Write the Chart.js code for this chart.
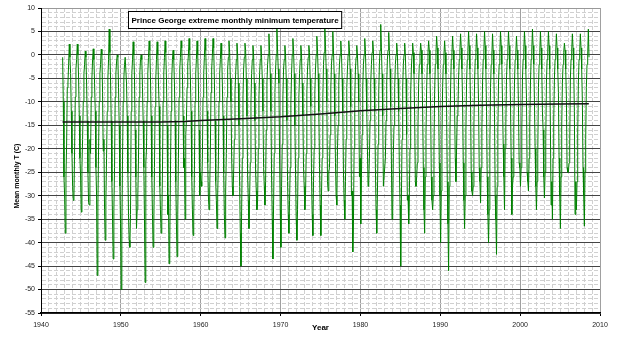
<!DOCTYPE html>
<html>
<head>
<meta charset="utf-8">
<script src="https://cdn.jsdelivr.net/npm/chart.js@4.4.0/dist/chart.umd.min.js"></script>
<style>
  html, body { margin: 0; padding: 0; background: #fff; }
</style>
</head>
<body>
<canvas id="chart_temp" width="619" height="337"></canvas>
<script>
// Data: extreme monthly minimum temperature, one row per year, Jan..Dec
years = [1942, 1943, 1944, 1945, 1946, 1947, 1948, 1949, 1950, 1951, 1952, 1953, 1954, 1955, 1956,
         1957, 1958, 1959, 1960, 1961, 1962, 1963, 1964, 1965, 1966, 1967, 1968, 1969, 1970, 1971,
         1972, 1973, 1974, 1975, 1976, 1977, 1978, 1979, 1980, 1981, 1982, 1983, 1984, 1985, 1986,
         1987, 1988, 1989, 1990, 1991, 1992, 1993, 1994, 1995, 1996, 1997, 1998, 1999, 2000, 2001,
         2002, 2003, 2004, 2005, 2006, 2007, 2008]
monthly_min = [
  [null, null, null, null, null, null, null, null, -0.5, -10, -26, -30],
  [-38, -26, -19, -7, -6, -2, 2.3, -0.5, -4, -12, -21, -28],
  [-31, -30, -20, -9, -3, -1, 2.3, 0, -5, -13, -22, -26],
  [-33.5, -24, -18, -10, -4, -2, 0.8, -0.5, -6, -14, -25, -31.5],
  [-32, -18, -21, -9, -5, -1, 1.3, -1, -6, -12, -24, -30],
  [-47, -32, -20, -10, -4, -2, 1.2, 0, -8, -20.5, -18, -33],
  [-39.5, -31, -22, -12, -5, -1, 5.5, 0.5, -5, -14, -27, -35],
  [-43.5, -33, -24, -9, -4, -1.5, 0, -0.5, -7, -15, -28, -36],
  [-50, -38, -22, -10, -5, -2, -0.5, -0.5, -6, -13, -25, -34],
  [-39.5, -41, -34, -12, -4, -1, 2.8, 0, -5, -16, -26, -37],
  [-33, -30, -22, -9, -4, -1, 0, -1, -7, -14, -24, -35],
  [-48.5, -23, -20, -10, -4, -0.5, 3, 1, -5, -13, -26, -34],
  [-41, -36, -24, -11, -5, -1, 2.8, 0, -6, -11, -28, -33],
  [-38, -35, -25, -10, -4, -0.5, 3, 0.5, -5, -15, -34, -30],
  [-44.5, -40, -26, -12, -5, -1, 1, -1, -6, -14, -27, -36],
  [-43, -34, -22, -9, -3, -0.5, 3, 1.5, -4, -13, -24, -22],
  [-35, -17, -14, -7, -2, 0, 3.5, 1, -5, -12, -26, -33],
  [-38.5, -34, -25, -10, -4, -1, 3, 0, -6, -16, -30, -25],
  [-27, -28, -22, -9, -4, -0.5, 3.5, 1, -4, -12, -23, -30],
  [-33, -29, -20, -8, -3, 0, 3.5, 1.5, -5, -14, -27, -31],
  [-37, -30, -23, -10, -4, -1, 2.5, 0, -6, -13, -25, -34],
  [-39, -29, -21, -9, -3, -0.5, 3, 0.5, -5, -10, -22, -28],
  [-30, -25, -18, -8, -4, -1, 2.5, 0, -6, -15, -28, -38],
  [-45, -33, -22, -9, -3, -0.5, 2.5, 1, -5, -13, -26, -31],
  [-37, -30, -23, -10, -4, -1, 2, 0, -6, -14, -25, -29],
  [-33, -31, -20, -9, -4, -1, 2, -0.5, -5, -12, -24, -28],
  [-32, -27, -16, -6, -2, 0, 4.5, 1, -4, -12, -26, -35],
  [-43.5, -32, -21, -8, -3, 0, 5.5, 1, -3, -6, -22, -33],
  [-41, -28, -19, -9, -3, -1, 2, 0, -5, -14, -27, -34],
  [-38, -31, -24, -10, -4, 0, 3.5, 1, -4, -15, -25, -35],
  [-39.5, -33, -22, -9, -4, -1, 2, 0, -6, -13, -24, -28],
  [-33, -30, -21, -8, -3, -0.5, 2, 0.5, -5, -11, -26, -34],
  [-38.5, -27, -20, -8, -3, 0, 4, 1, -4, -12, -24, -32],
  [-38.5, -30, -22, -9, -2, 0.5, 6, 2, -3, -10, -27, -29],
  [-25, -24, -17, -7, -2, 0, 5, 1, -4, -13, -23, -30],
  [-32, -20, -15, -6, -2, 0, 3, 0.5, -5, -12, -25, -31],
  [-35, -27, -18, -7, -3, 0, 3, 1, -3, -11, -30, -29],
  [-42, -36, -20, -9, -3, -0.5, 2, 0, -4, -10, -26, -22],
  [-36, -26, -17, -7, -2, 0, 3.5, 1, -5, -12, -20, -28],
  [-27, -22, -14, -6, -2, 0.5, 3, 1, -5, -12, -24, -33],
  [-38, -30, -19, -8, -2, 1, 6.5, 1.5, -4, -13, -28, -26],
  [-26, -22, -14, -6, -1, 1, 4.8, 1, -3, -11, -22, -35],
  [-33, -21, -15, -7, -2, 0, 2.5, 0.5, -5, -12, -24, -32],
  [-45, -32, -18, -7, -2, 0, 2.5, 0, -5, -17, -31, -30],
  [-36, -30, -20, -8, -3, 0, 2.5, 0.5, -4, -13, -27, -28],
  [-26, -23, -15, -6, -2, 0, 2.5, 1, -4, -12, -24, -33],
  [-38, -26, -17, -7, -2, 0.5, 3, 1, -4, -11, -26, -31],
  [-33, -30, -20, -8, -2, 0.5, 4, 1.5, -3, -10, -23, -30],
  [-40, -29, -18, -7, -2, 0, 3, 0.5, -4, -12, -27, -36],
  [-46, -28, -17, -7, -1, 0.5, 4, 1, -3, -11, -22, -27],
  [-20, -13, -12, -5, -1, 1, 4.5, 1.5, -3, -10, -23, -31],
  [-37, -30, -16, -6, -1, 1, 5, 2, -3, -11, -25, -29],
  [-30, -28, -15, -6, -1, 0.5, 4.5, 1.5, -3, -10, -24, -27],
  [-31.5, -24, -16, -6, -1, 1, 5, 2, -3, -12, -26, -34],
  [-40, -33, -19, -7, -2, 0, 4.5, 1, -4, -13, -30, -35],
  [-42.5, -28, -16, -6, -2, 0.5, 5, 2, -2, -10, -19, -26],
  [-33, -20, -15, -5, -1, 1, 5, 2, -3, -10, -22, -34],
  [-28, -26, -15, -6, -1, 0.5, 4, 1, -3, -11, -23, -24],
  [-28, -24, -16, -5, -1, 1, 5, 2, -3, -9, -25, -27],
  [-29, -22, -15, -6, -1, 1, 5.5, 2, -2, -10, -20, -28],
  [-33, -27, -21, -7, -2, 0.5, 5, 1.5, -3, -12, -16, -26],
  [-30.5, -25, -18, -6, -1, 1, 5, 2, -3, -16, -32, -27],
  [-35, -22, -14, -5, -1, 1, 4.5, 1.5, -3, -8, -22, -30],
  [-37, -26, -15, -6, -2, 0.5, 2.5, 1, -3, -9, -24, -25],
  [-25, -23, -19, -5, -1, 1, 4.5, 1.5, -3, -12, -34, -27],
  [-33, -27, -17, -6, -1, 0.5, 4.5, 1.5, -3, -10, -24, -30],
  [-36.5, -25, -18, -7, -2, 0, 5.5, -0.5, null, null, null, null]
]
// Smoothed trend (black line)
trend_x = [1942.7, 1950, 1955, 1958, 1960, 1965, 1970, 1975, 1980, 1985, 1990, 1995, 2000, 2005, 2008.6]
trend_y = [-14.3, -14.3, -14.3, -14.2, -14.0, -13.6, -13.2, -12.6, -11.9, -11.4, -11.0, -10.75, -10.55, -10.45, -10.4]

chart_title = "Prince George extreme monthly minimum temperature"

var monthly_points = []
years.forEach(function (yr, i) {
  monthly_min[i].forEach(function (v, m) {
    if (v !== null) monthly_points.push({x: yr + (m + 0.5) / 12, y: v})
  })
})
var trend_points = trend_x.map(function (x, i) { return {x: x, y: trend_y[i]} })

var font_family = "'Liberation Sans', Arial, sans-serif"

// title box drawn inside the plot area
var titleBox = {
  id: 'titleBox',
  afterDatasetsDraw: function (chart) {
    var ctx = chart.ctx, area = chart.chartArea
    ctx.save()
    ctx.font = "bold 8px " + font_family
    var w = ctx.measureText(chart_title).width + 6
    var left = Math.round(area.left + 87) + 0.5
    var top = Math.round(area.top + 3) + 0.5
    ctx.fillStyle = '#fff'
    ctx.fillRect(left, top, w, 17)
    ctx.strokeStyle = '#000'
    ctx.lineWidth = 1
    ctx.strokeRect(left, top, w, 17)
    ctx.fillStyle = '#000'
    ctx.textBaseline = 'middle'
    ctx.textAlign = 'center'
    ctx.fillText(chart_title, left + w / 2, top + 9)
    ctx.restore()
  }
}

function isMajor(ctx, step) {
  return ctx.tick && Math.round(ctx.tick.value) % step === 0
}

var config = {
  type: 'line',
  data: {
    datasets: [{
      label: 'trend',
      data: trend_points,
      borderColor: '#111',
      borderWidth: 1.5,
      pointRadius: 0,
      order: 0
    }, {
      label: 'Tmin',
      data: monthly_points,
      borderColor: '#008000',
      borderWidth: 1,
      pointRadius: 0,
      tension: 0,
      order: 1
    }]
  },
  options: {
    responsive: false,
    animation: false,
    layout: {padding: {left: 0, right: 19, top: 8, bottom: 0}},
    plugins: {
      legend: {display: false},
      tooltip: {enabled: false}
    },
    scales: {
      x: {
        type: 'linear',
        min: 1940,
        max: 2010,
        ticks: {
          stepSize: 1,
          autoSkip: false,
          maxRotation: 0,
          padding: 5,
          color: '#222',
          font: {family: font_family, size: 7},
          callback: function (v) { return Math.round(v) % 10 === 0 ? String(v) : '' }
        },
        grid: {
          color: function (c) { return isMajor(c, 10) ? '#a0a0a0' : '#d0d0d0' },
          tickLength: 3,
          tickColor: function (c) { return isMajor(c, 10) ? '#000' : 'rgba(0,0,0,0)' }
        },
        border: {
          color: '#000',
          width: 1.5,
          dash: function (c) { return (c.tick && !isMajor(c, 10)) ? [4, 2] : [] }
        },
        title: {
          display: true,
          text: 'Year',
          color: '#000',
          font: {family: font_family, size: 8, weight: 'bold'},
          padding: {top: 0, bottom: 4}
        },
        afterFit: function (s) { s.height = 24 }
      },
      y: {
        min: -55,
        max: 10,
        ticks: {
          stepSize: 1,
          autoSkip: false,
          padding: 3,
          color: '#222',
          font: {family: font_family, size: 7},
          callback: function (v) { return Math.round(v) % 5 === 0 ? String(v) : '' }
        },
        grid: {
          color: function (c) {
            if (!c.tick) return '#444'
            if (Math.round(c.tick.value) === 10) return '#999'
            return isMajor(c, 5) ? '#444' : '#d0d0d0'
          },
          tickLength: 3,
          tickColor: function (c) { return isMajor(c, 5) ? '#000' : 'rgba(0,0,0,0)' }
        },
        border: {
          color: '#000',
          dash: function (c) { return (c.tick && !isMajor(c, 5)) ? [4, 2] : [] }
        },
        title: {
          display: true,
          text: 'Mean monthly T (C)\u00a0\u00a0\u00a0\u00a0\u00a0\u00a0\u00a0\u00a0\u00a0\u00a0\u00a0\u00a0\u00a0\u00a0\u00a0\u00a0',
          color: '#000',
          font: {family: font_family, size: 7, weight: 'bold'},
          padding: {top: 13, bottom: 0}
        },
        afterFit: function (s) { s.width = 41 }
      }
    }
  },
  plugins: [titleBox]
}

var ctx = document.getElementById("chart_temp")
var ch_temp = new Chart(ctx, config)
</script>
</body>
</html>
